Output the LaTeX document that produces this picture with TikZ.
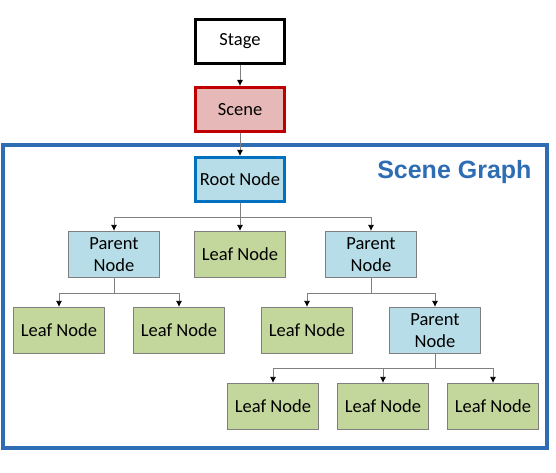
\documentclass[tikz,border=0pt]{standalone}
\usepackage{fontspec}
\setmainfont{Carlito}
\newfontfamily\headfont{Liberation Sans}
\usetikzlibrary{arrows.meta}
\definecolor{framblue}{HTML}{2E6DB4}
\definecolor{rootblue}{HTML}{0070C0}
\definecolor{lightblue}{HTML}{B7DEE8}
\definecolor{leafgreen}{HTML}{C3D69B}
\definecolor{scenered}{HTML}{C00000}
\definecolor{scenepink}{HTML}{E6B9B8}
\definecolor{boxgray}{HTML}{7F7F7F}
\definecolor{linegray}{HTML}{808080}
\tikzset{
	box/.style={draw=boxgray, line width=1.2pt, minimum width=91pt, minimum height=46pt, inner sep=0pt, align=center, font=\fontsize{18.5}{22}\selectfont},
	stagebox/.style={box, draw=black, line width=3pt, fill=white, minimum width=89pt, minimum height=44pt},
	scenebox/.style={box, draw=scenered, line width=3pt, fill=scenepink, minimum width=89pt, minimum height=44pt},
	rootbox/.style={box, draw=rootblue, line width=3pt, fill=lightblue, minimum width=89pt, minimum height=44pt},
	parentbox/.style={box, fill=lightblue},
	leafbox/.style={box, fill=leafgreen},
	conn/.style={draw=linegray, line width=0.8pt, -{Latex[color=black, length=6pt, width=6pt]}}
}

\begin{document}
\begin{tikzpicture}[x=1pt, y=-1pt]
	\useasboundingbox (0,0) rectangle (556,473);

	% scene graph frame
	\draw[draw=framblue, line width=4pt] (3,145) rectangle (547,448);
	\node[font=\headfont\bfseries\fontsize{25}{28}\selectfont, text=framblue, anchor=east] (title) at (535,172) {Scene Graph};

	\node[stagebox] (stage) at (240,41.5) {Stage};
	\node[scenebox] (scene) at (240,109.5) {Scene};
	\node[rootbox] (root) at (240,179.5) {Root Node};

	\node[parentbox] (parentA) at (114,254.5) {Parent\\Node};
	\node[leafbox] (leafA) at (240,254.5) {Leaf Node};
	\node[parentbox] (parentB) at (371,254.5) {Parent\\Node};

	\node[leafbox] (leafB) at (59,330.5) {Leaf Node};
	\node[leafbox] (leafC) at (179,330.5) {Leaf Node};
	\node[leafbox] (leafD) at (307,330.5) {Leaf Node};
	\node[parentbox] (parentC) at (435,330.5) {Parent\\Node};

	\node[leafbox] (leafE) at (273,406.5) {Leaf Node};
	\node[leafbox] (leafF) at (383,406.5) {Leaf Node};
	\node[leafbox] (leafG) at (493,406.5) {Leaf Node};

	% bus points
	\coordinate (busroot) at (240,217);
	\coordinate (busA) at (114,293);
	\coordinate (busB) at (371,293);
	\coordinate (busC) at (435,368);

	\draw[conn] (stage.south) -- (scene.north);
	\draw[conn] (scene.south) -- (root.north);

	\draw[conn] (root.south) -- (busroot) -| (parentA.north);
	\draw[conn] (root.south) -- (leafA.north);
	\draw[conn] (root.south) -- (busroot) -| (parentB.north);

	\draw[conn] (parentA.south) -- (busA) -| (leafB.north);
	\draw[conn] (parentA.south) -- (busA) -| (leafC.north);

	\draw[conn] (parentB.south) -- (busB) -| (leafD.north);
	\draw[conn] (parentB.south) -- (busB) -| (parentC.north);

	\draw[conn] (parentC.south) -- (busC) -| (leafE.north);
	\draw[conn] (parentC.south) -- (busC) -| (leafF.north);
	\draw[conn] (parentC.south) -- (busC) -| (leafG.north);

\end{tikzpicture}
\end{document}
